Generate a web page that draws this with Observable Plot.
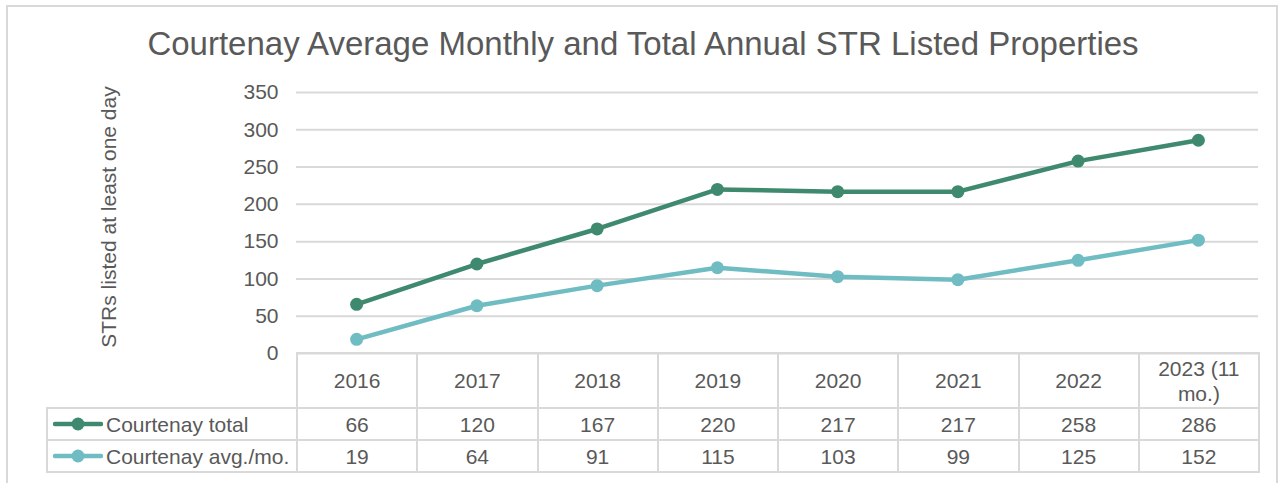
<!DOCTYPE html>
<html>
<head>
<meta charset="utf-8">
<script src="https://cdn.jsdelivr.net/npm/d3@7"></script>
<script src="https://cdn.jsdelivr.net/npm/@observablehq/plot@0.6"></script>
<style>
  html, body { margin: 0; padding: 0; background: #fff; }
  #wrap { position: relative; width: 1283px; height: 483px; overflow: hidden; font-family: "Liberation Sans", Arial, sans-serif; color: #595959; }
  #border { position: absolute; left: 6px; top: 5px; width: 1272px; height: 520px; border: 2px solid #d9d9d9; box-sizing: border-box; }
  #title { position: absolute; left: 7px; width: 1272px; top: 27px; text-align: center; font-size: 33px; line-height: 33px; white-space: nowrap; }
  #chart { position: absolute; left: 0; top: 0; }
  #tbl { position: absolute; left: 46px; top: 352px; border-collapse: collapse; table-layout: fixed; font-size: 21px; }
  #tbl td { border: 2px solid #d9d9d9; text-align: center; vertical-align: middle; padding: 0; line-height: 25px; }
  #tbl td.lab { text-align: left; white-space: nowrap; padding-left: 5px; }
  #tbl td.blank { border-top: none; border-left: none; }
  .key { display: inline-block; vertical-align: middle; margin-right: 3px; position: relative; top: -2px; }
</style>
</head>
<body>
<div id="wrap">
  <div id="border"></div>
  <div id="chart"></div>
  <div id="title"></div>
  <table id="tbl"></table>
</div>
<script>
const title = "Courtenay Average Monthly and Total Annual STR Listed Properties";
const yLabel = "STRs listed at least one day";
const categories = ["2016", "2017", "2018", "2019", "2020", "2021", "2022", "2023 (11\nmo.)"];
const seriesNames = ["Courtenay total", "Courtenay avg./mo."];
const totalValues = [66, 120, 167, 220, 217, 217, 258, 286];
const avgValues = [19, 64, 91, 115, 103, 99, 125, 152];
const yTicks = [0, 50, 100, 150, 200, 250, 300, 350];
const colors = ["#3f8a6f", "#70bcc3"];

const seriesValues = [totalValues, avgValues];
const rows = seriesValues.flatMap((vals, s) => vals.map((v, i) => ({i, v, s: seriesNames[s]})));

const W = 1283, H = 483;
const chart = Plot.plot({
  width: W, height: H,
  marginTop: 92, marginBottom: 130, marginLeft: 296, marginRight: 25,
  style: {fontFamily: "'Liberation Sans', Arial, sans-serif", color: "#595959", background: "transparent", fontSize: "21px"},
  x: {domain: [-0.5, categories.length - 0.5], axis: null},
  y: {domain: [0, 350], axis: null},
  color: {domain: seriesNames, range: colors},
  marks: [
    Plot.gridY(yTicks, {stroke: "#d9d9d9", strokeOpacity: 1, strokeWidth: 2}),
    Plot.axisY(yTicks, {tickSize: 0, tickPadding: 18, fontSize: 21, fill: "#595959", label: null}),
    Plot.text([yLabel], {frameAnchor: "left", textAnchor: "middle", rotate: -90, dx: -187, dy: -6, fontSize: 21, fill: "#595959"}),
    Plot.line(rows, {x: "i", y: "v", z: "s", stroke: "s", strokeWidth: 4.5, strokeLinejoin: "round", curve: "linear"}),
    Plot.dot(rows, {x: "i", y: "v", fill: "s", r: 6.5})
  ]
});
document.getElementById("chart").appendChild(chart);
document.getElementById("title").textContent = title;

// data table
const tbl = document.getElementById("tbl");
const colW = 962 / categories.length;
const cg = document.createElement("colgroup");
const c0 = document.createElement("col"); c0.style.width = "250px"; cg.appendChild(c0);
categories.forEach(() => { const c = document.createElement("col"); c.style.width = colW + "px"; cg.appendChild(c); });
tbl.appendChild(cg);
tbl.style.width = (250 + 962) + "px";
const hr = document.createElement("tr"); hr.style.height = "55px";
const b = document.createElement("td"); b.className = "blank"; hr.appendChild(b);
categories.forEach(c => { const td = document.createElement("td"); td.innerHTML = c.replace("\n", "<br>"); hr.appendChild(td); });
tbl.appendChild(hr);
seriesNames.forEach((name, s) => {
  const tr = document.createElement("tr"); tr.style.height = "32px";
  const lab = document.createElement("td"); lab.className = "lab";
  lab.innerHTML = `<svg class="key" width="50" height="14"><line x1="2" y1="7" x2="48" y2="7" stroke="${colors[s]}" stroke-width="4.5" stroke-linecap="round"/><circle cx="25" cy="7" r="6.5" fill="${colors[s]}"/></svg>`;
  lab.appendChild(document.createTextNode(name));
  tr.appendChild(lab);
  seriesValues[s].forEach(v => { const td = document.createElement("td"); td.textContent = v; tr.appendChild(td); });
  tbl.appendChild(tr);
});
</script>
</body>
</html>
